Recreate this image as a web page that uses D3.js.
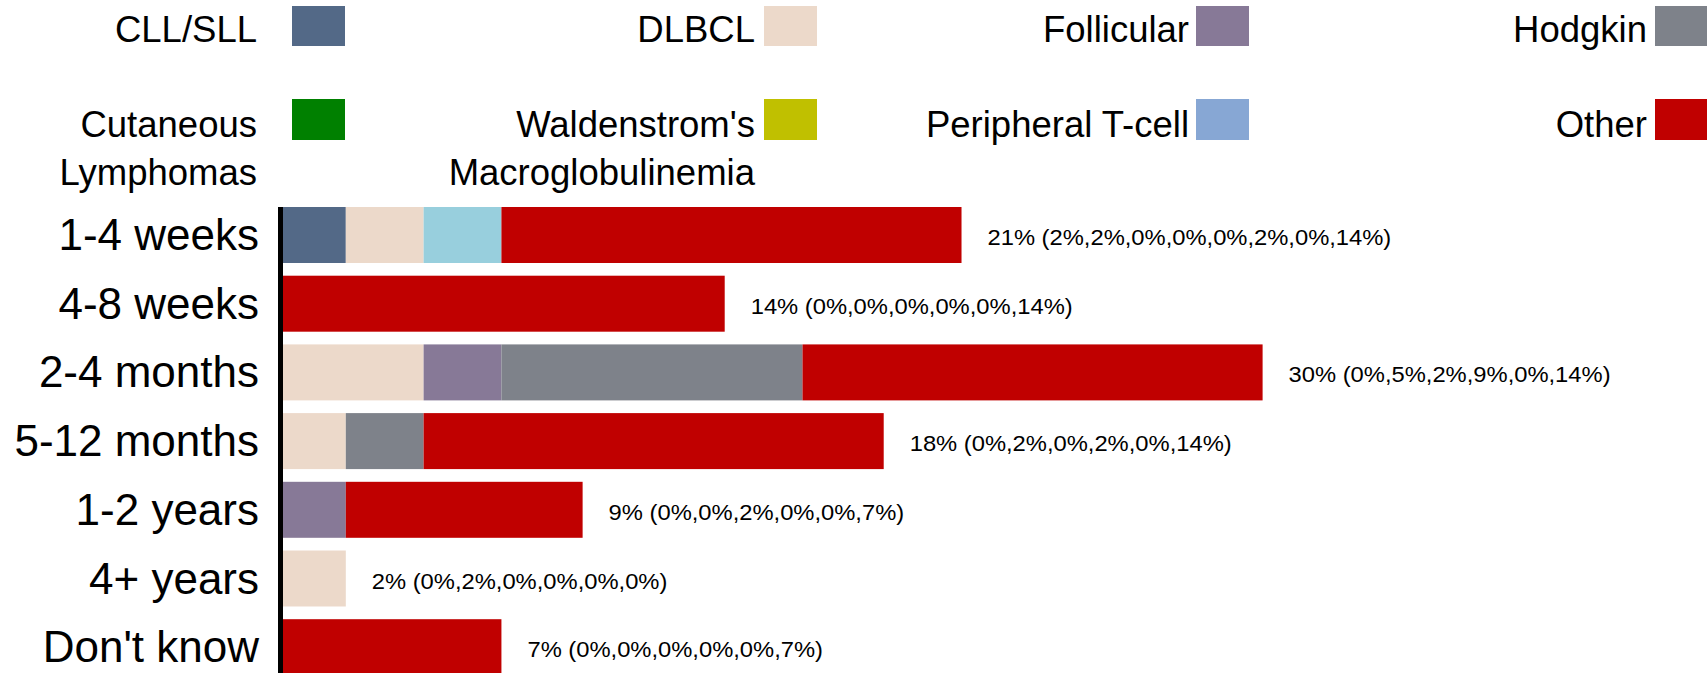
<!DOCTYPE html>
<html>
<head>
<meta charset="utf-8">
<script src="https://cdn.jsdelivr.net/npm/d3@7"></script>
<style>
  html, body { margin: 0; padding: 0; background: #fff; }
  svg { display: block; font-family: "Liberation Sans", Arial, Helvetica, sans-serif; }
</style>
</head>
<body>
<svg id="chart" width="1707" height="673"></svg>
<script>
// ---------------- DATA ----------------
const categories = ["1-4 weeks", "4-8 weeks", "2-4 months", "5-12 months", "1-2 years", "4+ years", "Don't know"];

const seriesNames = ["CLL/SLL", "DLBCL", "Follicular", "Hodgkin", "Cutaneous Lymphomas",
                     "Waldenstrom's Macroglobulinemia", "Peripheral T-cell", "Other"];
const legendLines = [["CLL/SLL"], ["DLBCL"], ["Follicular"], ["Hodgkin"],
                     ["Cutaneous", "Lymphomas"], ["Waldenstrom's", "Macroglobulinemia"],
                     ["Peripheral T-cell"], ["Other"]];

// percent of respondents per category
const cll         = [2.3, 0,    0,    0,    0,   0,   0];
const dlbcl       = [2.3, 0,    4.6,  2.3,  0,   2.3, 0];
const follicular  = [0,   0,    2.3,  0,    2.3, 0,   0];
const hodgkin     = [0,   0,    8.9,  2.3,  0,   0,   0];
const cutaneous   = [0,   0,    0,    0,    0,   0,   0];
const waldenstrom = [2.3, 0,    0,    0,    0,   0,   0];
const peripheralT = [0,   0,    0,    0,    0,   0,   0];
const other       = [13.6, 13.5, 13.6, 13.6, 7.0, 0,  6.9];

const valueLabels = [
  "21% (2%,2%,0%,0%,0%,2%,0%,14%)",
  "14% (0%,0%,0%,0%,0%,14%)",
  "30% (0%,5%,2%,9%,0%,14%)",
  "18% (0%,2%,0%,2%,0%,14%)",
  "9% (0%,0%,2%,0%,0%,7%)",
  "2% (0%,2%,0%,0%,0%,0%)",
  "7% (0%,0%,0%,0%,0%,7%)"
];

const legendColors = ["#536987", "#ECD9CA", "#877997", "#7E828A", "#008000", "#C0C000", "#87A7D4", "#C00000"];
const barColors    = ["#536987", "#ECD9CA", "#877997", "#7E828A", "#008000", "#98CFDD", "#87A7D4", "#C00000"];

// ---------------- BUILD ----------------
const seriesValues = [cll, dlbcl, follicular, hodgkin, cutaneous, waldenstrom, peripheralT, other];
const keys = seriesNames;
const table = categories.map((c, i) => {
  const row = { category: c };
  keys.forEach((k, j) => row[k] = seriesValues[j][i]);
  return row;
});
const stacked = d3.stack().keys(keys)(table);

const svg = d3.select("#chart");

const x = d3.scaleLinear().domain([0, 35]).range([268, 268 + 35 * 33.83]);
const y = d3.scaleBand().domain(categories)
  .range([200.65, 200.65 + 7 * 68.7])
  .paddingInner(0.185).paddingOuter(0.0925);

const axisX = 283;

svg.append("defs").append("clipPath").attr("id", "plotClip")
  .append("rect").attr("x", axisX).attr("y", 0).attr("width", 1707 - axisX).attr("height", 673);

// Legend
const legend = svg.append("g").attr("class", "legend");
const legTextRight = [257, 755, 1189, 1647];
const legSquareX = [292, 764, 1196, 1655];
const legRowTop = [6, 99];
const legRowH = [40, 41];
const legBaseline = [42, 137];
seriesNames.forEach((name, i) => {
  const col = i % 4, row = Math.floor(i / 4);
  legend.append("rect")
    .attr("x", legSquareX[col]).attr("y", legRowTop[row])
    .attr("width", 53).attr("height", legRowH[row])
    .attr("fill", legendColors[i]);
  const t = legend.append("text")
    .attr("x", legTextRight[col]).attr("y", legBaseline[row])
    .attr("text-anchor", "end")
    .attr("font-size", 36.5).attr("fill", "#000");
  legendLines[i].forEach((line, li) => {
    t.append("tspan").attr("x", legTextRight[col]).attr("dy", li === 0 ? 0 : 48).text(line);
  });
});

// Bars
const barsG = svg.append("g").attr("clip-path", "url(#plotClip)");
barsG.selectAll("g.series").data(stacked).join("g")
  .attr("class", "series")
  .attr("fill", (d, i) => barColors[i])
  .selectAll("rect").data(d => d).join("rect")
  .attr("x", d => x(d[0]))
  .attr("y", d => y(d.data.category))
  .attr("width", d => Math.max(0, x(d[1]) - x(d[0])))
  .attr("height", y.bandwidth());

// Y axis (labels + line)
const yAxis = d3.axisLeft(y).tickSize(0).tickPadding(0);
const yG = svg.append("g").attr("transform", `translate(259,0)`).call(yAxis);
yG.select(".domain").remove();
yG.selectAll("text")
  .attr("font-size", 44).attr("fill", "#000")
  .attr("font-family", "\"Liberation Sans\", Arial, Helvetica, sans-serif")
  .attr("dy", null).attr("dominant-baseline", null)
  .attr("y", 15);

svg.append("rect")
  .attr("x", 278).attr("y", y(categories[0]))
  .attr("width", 5)
  .attr("height", y(categories[categories.length - 1]) + y.bandwidth() - y(categories[0]))
  .attr("fill", "#000");

// Value labels
const totals = categories.map((c, i) => d3.sum(seriesValues, s => s[i]));
const labelScaleX = 1.08;
svg.append("g").selectAll("text").data(categories).join("text")
  .attr("transform", (c, i) => `translate(${x(totals[i]) + 26},${y(c) + y.bandwidth() / 2 + 10}) scale(${labelScaleX},1)`)
  .attr("font-size", 22).attr("fill", "#000")
  .text((c, i) => valueLabels[i]);
</script>
</body>
</html>
